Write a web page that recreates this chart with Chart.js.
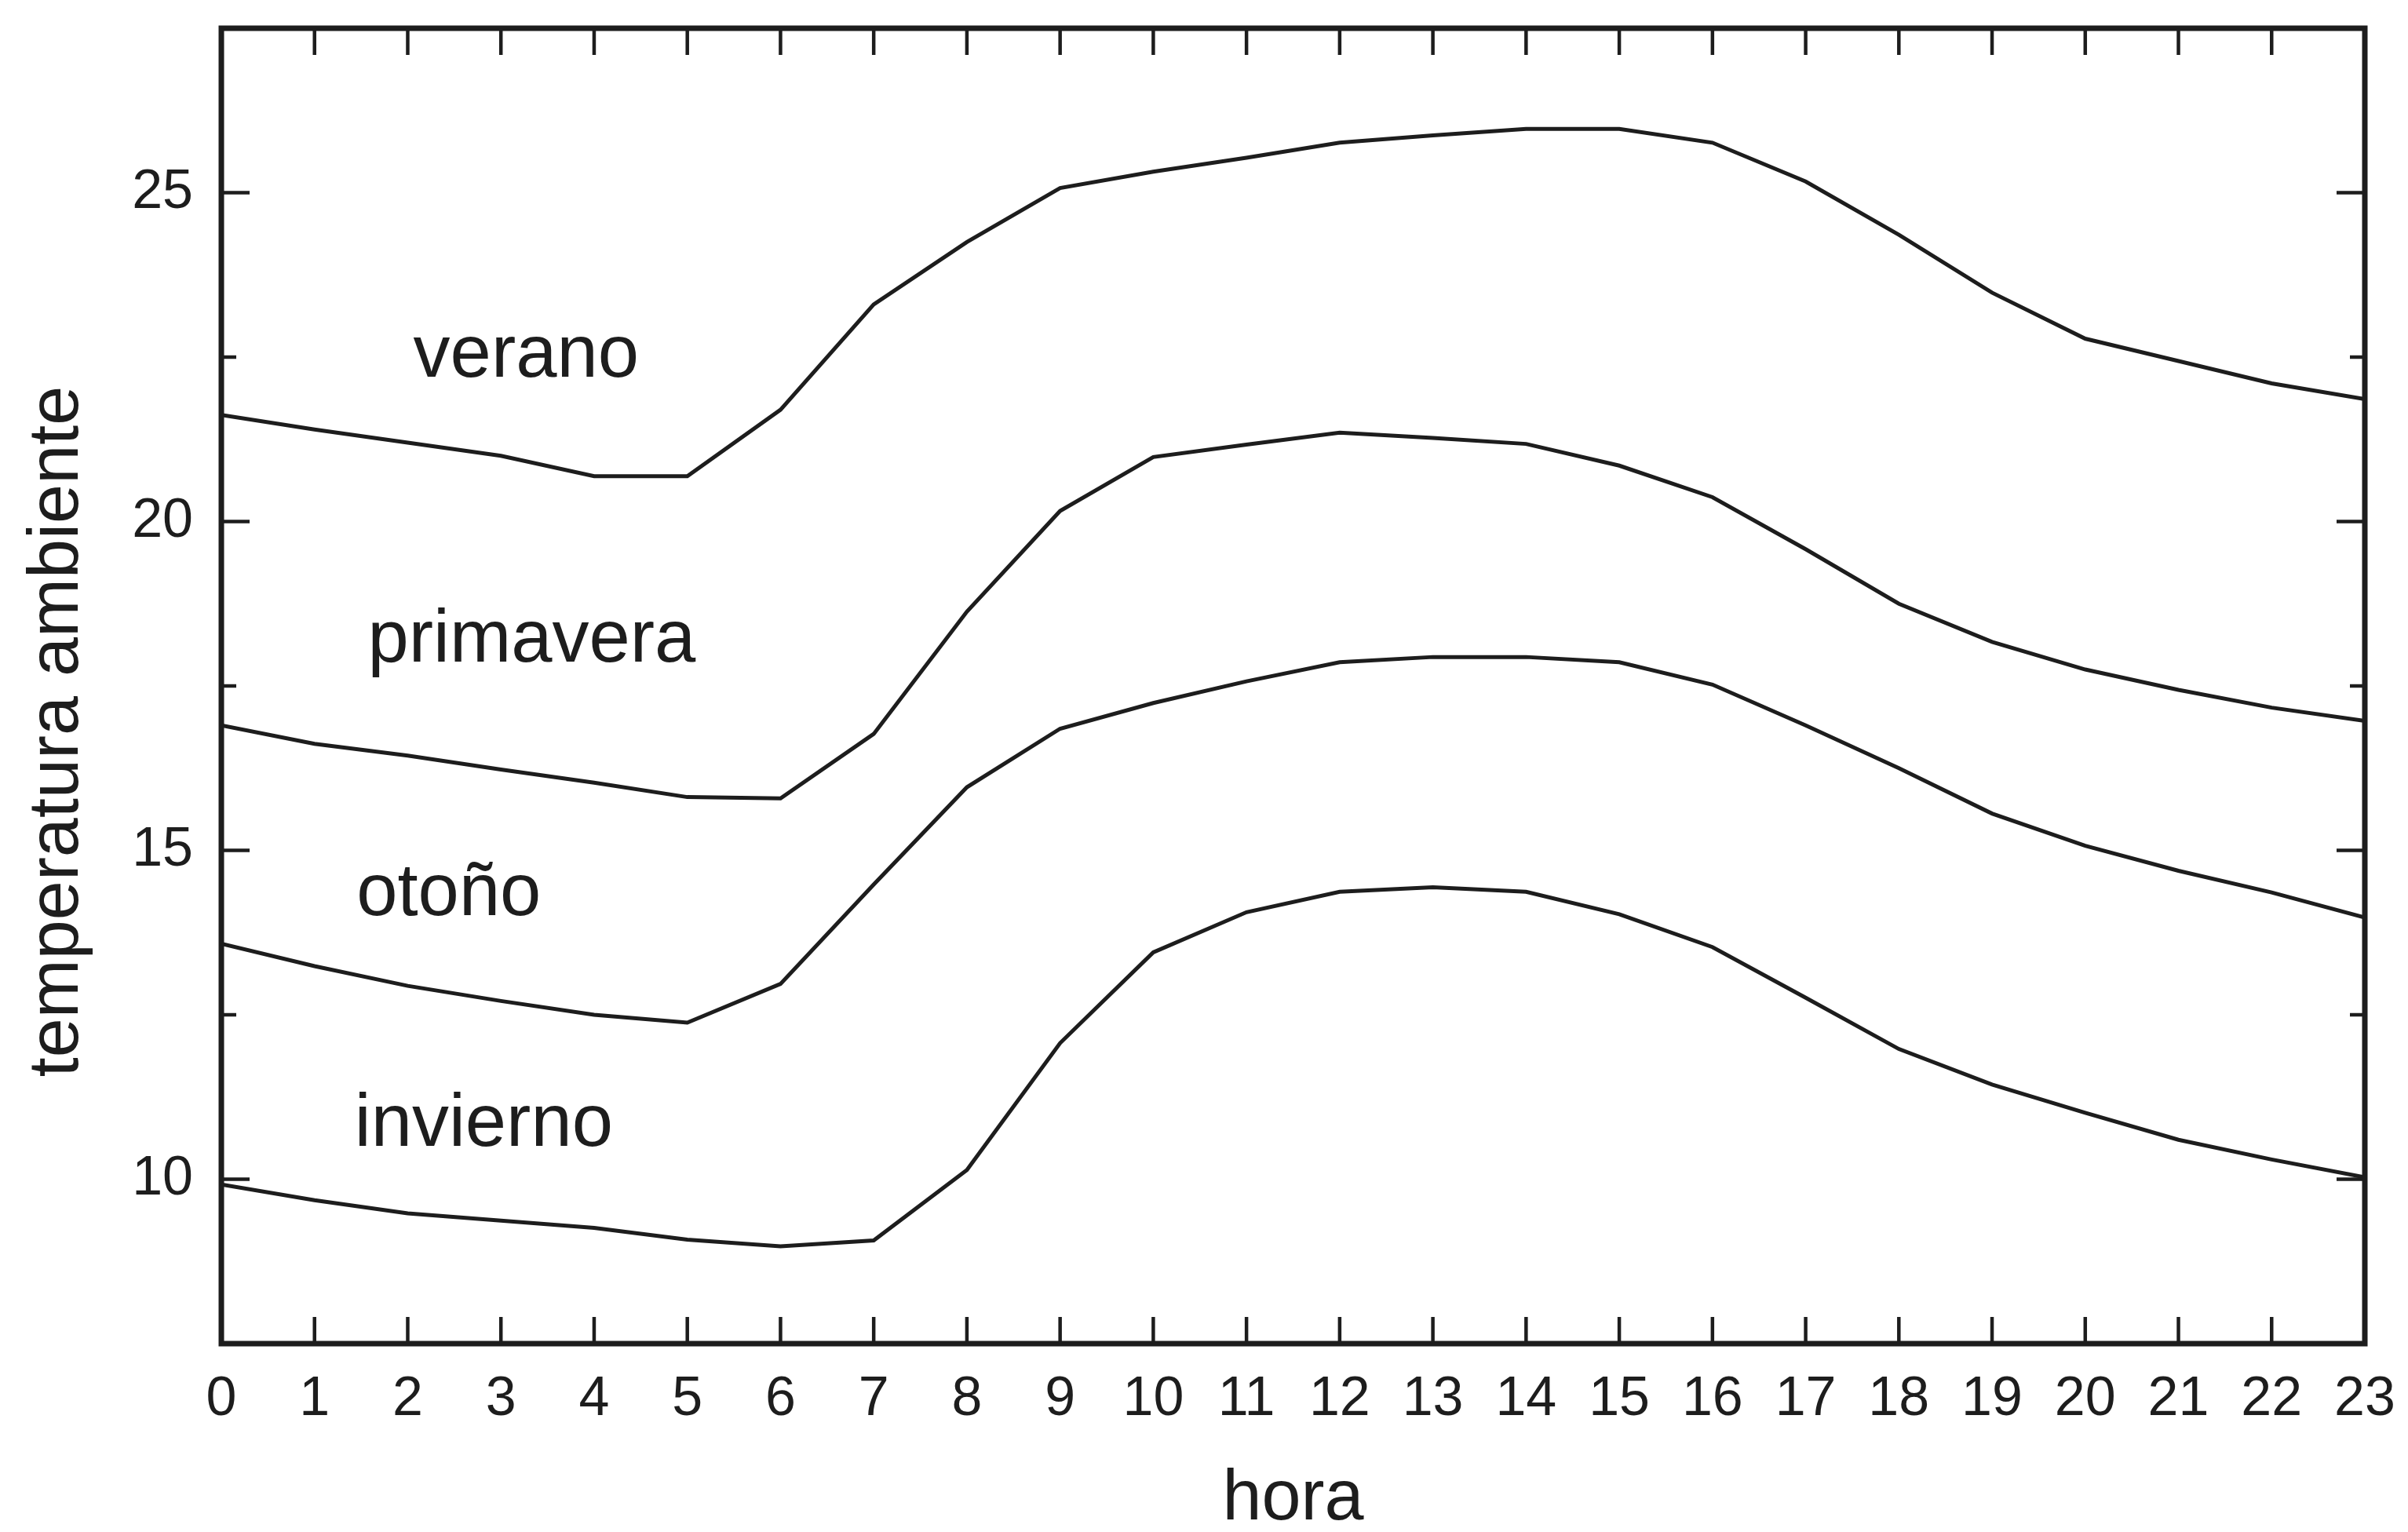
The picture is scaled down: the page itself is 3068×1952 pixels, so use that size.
<!DOCTYPE html>
<html>
<head>
<meta charset="utf-8">
<script src="https://cdn.jsdelivr.net/npm/chart.js@4.4.1/dist/chart.umd.min.js"></script>
<style>
  html, body { margin: 0; padding: 0; background: #ffffff; }
  #wrap { width: 3068px; height: 1952px; position: relative; }
</style>
</head>
<body>
<div id="wrap"><canvas id="c" width="3068" height="1952"></canvas></div>
<script>
// ---- data ----
const hours = [0,1,2,3,4,5,6,7,8,9,10,11,12,13,14,15,16,17,18,19,20,21,22,23];
const verano    = [21.62, 21.40, 21.20, 21.00, 20.69, 20.69, 21.70, 23.30, 24.25, 25.07, 25.32, 25.53, 25.76, 25.87, 25.97, 25.97, 25.76, 25.17, 24.36, 23.48, 22.78, 22.44, 22.10, 21.86];
const primavera = [16.90, 16.62, 16.44, 16.23, 16.03, 15.81, 15.79, 16.77, 18.63, 20.16, 20.98, 21.17, 21.35, 21.27, 21.18, 20.85, 20.37, 19.58, 18.75, 18.17, 17.75, 17.44, 17.17, 16.97];
const otono     = [13.58, 13.24, 12.94, 12.71, 12.50, 12.38, 12.97, 14.48, 15.96, 16.85, 17.24, 17.57, 17.86, 17.94, 17.94, 17.86, 17.52, 16.90, 16.25, 15.56, 15.07, 14.69, 14.36, 13.98];
const invierno  = [9.92, 9.68, 9.48, 9.37, 9.26, 9.08, 8.98, 9.07, 10.14, 12.07, 13.45, 14.06, 14.37, 14.44, 14.37, 14.03, 13.53, 12.76, 11.98, 11.44, 11.01, 10.60, 10.30, 10.03];
const seriesNames = ['verano', 'primavera', 'otoño', 'invierno'];
// label anchors in data coordinates (hour, temperature)
const labelHours = [2.06, 1.57, 1.45, 1.43];
const labelTemps = [22.2, 17.87, 14.02, 10.51];
const yTicksLabelled = [10, 15, 20, 25];
const xTitle = 'hora';
const yTitle = 'temperatura ambiente';

const INK = '#1d1d1d';
const FONT = "'Liberation Sans', Arial, Helvetica, sans-serif";

function mk(name, arr) {
  return {
    label: name,
    data: hours.map((h, i) => ({ x: h, y: arr[i] })),
    borderColor: INK,
    borderWidth: 5,
    pointRadius: 0,
    tension: 0,
    fill: false
  };
}

const framePlugin = {
  id: 'frame',
  afterDatasetsDraw(chart) {
    const { ctx, chartArea: a, scales: { x, y } } = chart;
    ctx.save();
    ctx.strokeStyle = INK;
    ctx.lineCap = 'butt';
    ctx.lineWidth = 4.5;
    const seg = (x1, y1, x2, y2) => { ctx.beginPath(); ctx.moveTo(x1, y1); ctx.lineTo(x2, y2); ctx.stroke(); };
    x.ticks.forEach(t => {
      const px = x.getPixelForValue(t.value);
      if (px <= a.left + 2 || px >= a.right - 2) return;
      seg(px, a.bottom, px, a.bottom - 34);
      seg(px, a.top, px, a.top + 34);
    });
    y.ticks.forEach(t => {
      const py = y.getPixelForValue(t.value);
      if (py <= a.top + 2 || py >= a.bottom - 2) return;
      const len = (Math.abs(t.value % 5) < 1e-6) ? 36 : 19;
      seg(a.left, py, a.left + len, py);
      seg(a.right, py, a.right - len, py);
    });
    ctx.lineWidth = 7;
    ctx.strokeRect(a.left, a.top, a.right - a.left, a.bottom - a.top);
    ctx.restore();
  }
};

const textPlugin = {
  id: 'texts',
  afterDraw(chart) {
    const { ctx, scales: { x, y } } = chart;
    ctx.save();
    ctx.fillStyle = INK;
    ctx.font = '94px ' + FONT;
    ctx.textAlign = 'left';
    ctx.textBaseline = 'alphabetic';
    seriesNames.forEach((n, i) => {
      ctx.fillText(n, x.getPixelForValue(labelHours[i]), y.getPixelForValue(labelTemps[i]));
    });
    // y axis title
    ctx.font = '90px ' + FONT;
    ctx.textAlign = 'center';
    ctx.translate(99, 932);
    ctx.rotate(-Math.PI / 2);
    ctx.fillText(yTitle, 0, 0);
    ctx.restore();
  }
};

new Chart(document.getElementById('c'), {
  type: 'line',
  data: {
    datasets: [mk(seriesNames[0], verano), mk(seriesNames[1], primavera), mk(seriesNames[2], otono), mk(seriesNames[3], invierno)]
  },
  options: {
    responsive: false,
    animation: false,
    devicePixelRatio: 1,
    layout: { padding: { top: 36, right: 55, bottom: 0, left: 0 } },
    plugins: { legend: { display: false }, tooltip: { enabled: false } },
    scales: {
      x: {
        type: 'linear',
        min: 0, max: 23,
        grid: { display: false, drawTicks: false },
        border: { display: false },
        ticks: {
          stepSize: 1, autoSkip: false, maxRotation: 0, minRotation: 0,
          color: INK, padding: 30,
          font: { family: FONT, size: 70 }
        },
        title: {
          display: true, text: xTitle, color: INK,
          font: { family: FONT, size: 90, lineHeight: 0.9 },
          padding: { top: 0, bottom: 0 }
        },
        afterFit(s) { s.height = 240; s.paddingLeft = 0; s.paddingRight = 0; }
      },
      y: {
        type: 'linear',
        min: 7.5, max: 27.5,
        grid: { display: false, drawTicks: false },
        border: { display: false },
        ticks: {
          stepSize: 2.5, autoSkip: false,
          color: INK, padding: 36,
          font: { family: FONT, size: 70 },
          callback: v => yTicksLabelled.includes(v) ? String(v) : ''
        },
        afterFit(s) { s.width = 282; s.paddingTop = 0; s.paddingBottom = 0; }
      }
    }
  },
  plugins: [framePlugin, textPlugin]
});
</script>
</body>
</html>
